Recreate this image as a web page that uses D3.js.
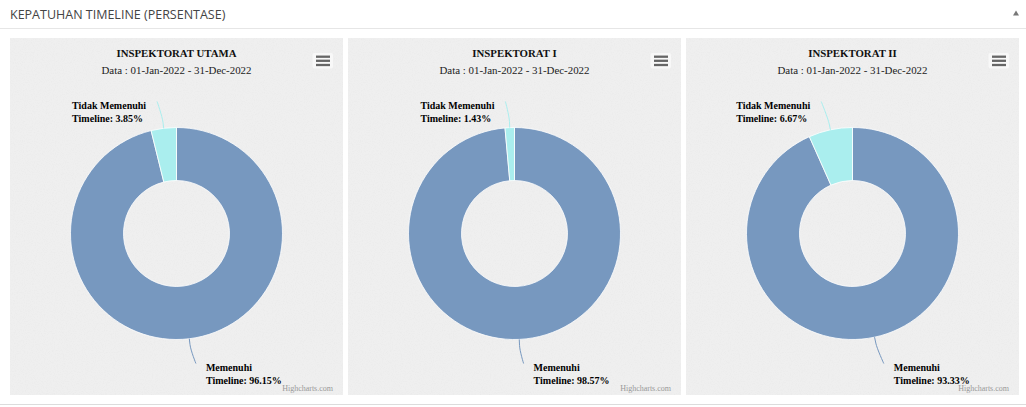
<!DOCTYPE html>
<html>
<head>
<meta charset="utf-8">
<script src="https://cdn.jsdelivr.net/npm/d3@7"></script>
<style>
  body { margin: 0; background: #fff; }
  svg { display: block; }
</style>
</head>
<body>
<svg id="chart" width="1026" height="407"></svg>
<script>
// data
const units = ['INSPEKTORAT UTAMA', 'INSPEKTORAT I', 'INSPEKTORAT II'];
const categories = ['Memenuhi Timeline', 'Tidak Memenuhi Timeline'];
const memenuhi = [96.15, 98.57, 93.33];
const tidakMemenuhi = [3.85, 1.43, 6.67];
const period = 'Data : 01-Jan-2022 - 31-Dec-2022';
const colors = ['#7798BF', '#aaeeee'];

const svg = d3.select('#chart');
const W = 1026;

const panelW = 333;
const panelH = 357;
const panelTop = 38;
const outerR = 106;
const innerR = 53;
const labelDistance = 30;
const serif = '"Liberation Serif", "Times New Roman", serif';

// header
svg.append('text')
  .attr('x', 10)
  .attr('y', 18.5)
  .attr('font-family', '"Open Sans", sans-serif')
  .attr('font-size', '12.5px')
  .attr('fill', '#444')
  .text('KEPATUHAN TIMELINE (PERSENTASE)');

svg.append('path')
  .attr('d', 'M1013,15.5 L1016,10.5 L1019,15.5 Z')
  .attr('fill', '#777');

svg.append('line')
  .attr('x1', 0).attr('x2', W)
  .attr('y1', 28.5).attr('y2', 28.5)
  .attr('stroke', '#e6e6e6');

svg.append('line')
  .attr('x1', 0).attr('x2', W)
  .attr('y1', 404.5).attr('y2', 404.5)
  .attr('stroke', '#dcdcdc');

// sand-like texture
const defs = svg.append('defs');
const noise = defs.append('filter')
  .attr('id', 'noise')
  .attr('x', 0).attr('y', 0).attr('width', '100%').attr('height', '100%');
noise.append('feTurbulence')
  .attr('type', 'fractalNoise')
  .attr('baseFrequency', 0.9)
  .attr('numOctaves', 2)
  .attr('seed', 3);
noise.append('feColorMatrix')
  .attr('type', 'matrix')
  .attr('values', '0 0 0 0 0.5  0 0 0 0 0.5  0 0 0 0 0.5  1 0 0 0 -0.45');

const x = d3.scaleBand()
  .domain(units)
  .range([10, 1019])
  .paddingInner(5 / 338);

const pie = d3.pie().sort(null).value((d) => d.value);
const arc = d3.arc().innerRadius(innerR).outerRadius(outerR);

units.forEach((unit, i) => {
  const px = x(unit);
  const g = svg.append('g').attr('transform', 'translate(' + px + ',' + panelTop + ')');

  g.append('rect')
    .attr('width', panelW)
    .attr('height', panelH)
    .attr('fill', '#efefef');
  g.append('rect')
    .attr('width', panelW)
    .attr('height', panelH)
    .attr('filter', 'url(#noise)')
    .attr('opacity', 0.18);

  // title
  g.append('text')
    .attr('x', panelW / 2)
    .attr('y', 18.5)
    .attr('text-anchor', 'middle')
    .attr('font-family', serif)
    .attr('font-weight', 'bold')
    .attr('font-size', '10.8px')
    .attr('fill', '#111')
    .text(unit);

  g.append('text')
    .attr('x', panelW / 2)
    .attr('y', 35.5)
    .attr('text-anchor', 'middle')
    .attr('font-family', serif)
    .attr('font-size', '10.9px')
    .attr('fill', '#222')
    .text(period);

  // menu button
  g.append('rect')
    .attr('x', panelW - 30.5)
    .attr('y', 15)
    .attr('width', 20.5)
    .attr('height', 15.5)
    .attr('rx', 2)
    .attr('fill', '#f8f8f8');
  [18.7, 22.8, 27].forEach((ly) => {
    g.append('line')
      .attr('x1', panelW - 27).attr('x2', panelW - 13)
      .attr('y1', ly).attr('y2', ly)
      .attr('stroke', '#666')
      .attr('stroke-width', 2.3);
  });

  // credits
  g.append('text')
    .attr('x', panelW - 10)
    .attr('y', panelH - 4)
    .attr('text-anchor', 'end')
    .attr('font-family', serif)
    .attr('font-size', '8px')
    .attr('fill', '#999')
    .text('Highcharts.com');

  const data = [
    { name: categories[0], value: memenuhi[i], color: colors[0] },
    { name: categories[1], value: tidakMemenuhi[i], color: colors[1] },
  ];

  const cx = panelW / 2;
  const cy = 195.5;
  const pg = g.append('g').attr('transform', 'translate(' + cx + ',' + cy + ')');

  const arcs = pie(data);

  pg.selectAll('.slice')
    .data(arcs)
    .enter()
    .append('path')
    .attr('class', 'slice')
    .attr('d', arc)
    .attr('fill', (d) => d.data.color)
    .attr('stroke', '#fff')
    .attr('stroke-width', 0.8);

  // data labels with soft connectors
  arcs.forEach((d) => {
    const a = (d.startAngle + d.endAngle) / 2;
    const sx = Math.sin(a);
    const sy = -Math.cos(a);
    const left = sx < 0;
    const at = (r) => [sx * r, sy * r];

    const edge = at(outerR);
    const mid = at(outerR + 6);
    const ctrl = at(outerR + 12);
    const lab = at(outerR + labelDistance);

    // keep label inside plot area
    let base = lab[1] + 7;
    const minBase = 108.5 - panelTop - cy;
    const maxBase = panelH - 11 - 13.5 - cy;
    base = Math.max(minBase, Math.min(maxBase, base));

    const endX = lab[0] + (left ? -3 : 3);
    const endY = base - 7;

    pg.append('path')
      .attr('d', 'M' + endX + ',' + endY +
        ' C' + endX + ',' + endY + ' ' + ctrl[0] + ',' + ctrl[1] + ' ' + mid[0] + ',' + mid[1] +
        ' L' + edge[0] + ',' + edge[1])
      .attr('fill', 'none')
      .attr('stroke', d.data.color)
      .attr('stroke-width', 1);

    const words = d.data.name.split(' ');
    const lines = [
      words.slice(0, -1).join(' '),
      words[words.length - 1] + ': ' + d.data.value.toFixed(2) + '%',
    ];

    const t = pg.append('text')
      .attr('font-family', serif)
      .attr('font-weight', 'bold')
      .attr('font-size', '10px')
      .attr('fill', '#000');
    lines.forEach((ln, k) => {
      t.append('tspan')
        .attr('y', base + k * 13.7)
        .text(ln);
    });
    const boxW = d3.max(t.selectAll('tspan').nodes(), (n) => n.getComputedTextLength());
    const tx = left ? endX - 11 - boxW : endX + 10;
    t.selectAll('tspan').attr('x', tx);
  });
});
</script>
</body>
</html>
